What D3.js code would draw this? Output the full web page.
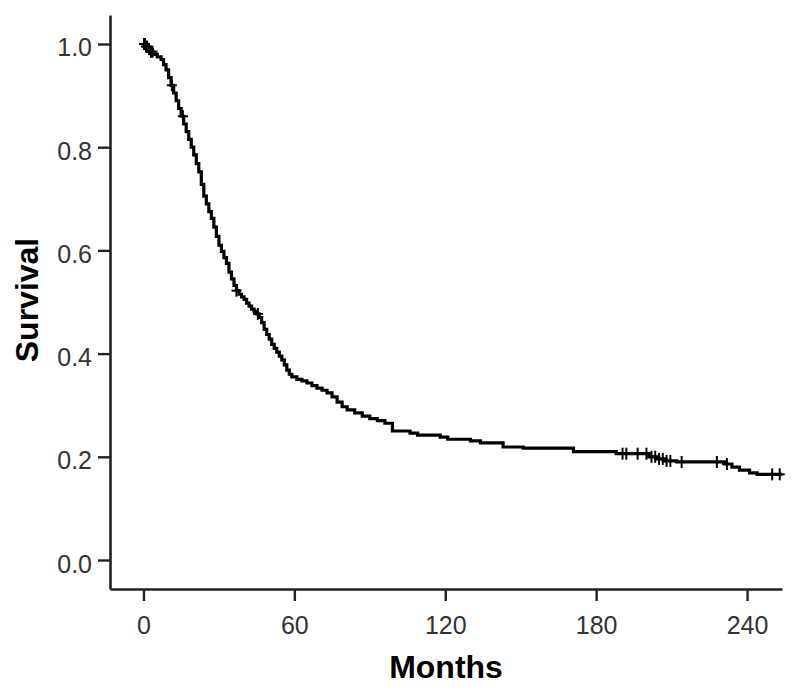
<!DOCTYPE html>
<html>
<head>
<meta charset="utf-8">
<script src="https://cdn.jsdelivr.net/npm/d3@7/dist/d3.min.js"></script>
<style>
  html, body { margin: 0; padding: 0; background: #fff; }
  svg { display: block; }
</style>
</head>
<body>
<svg id="chart" width="800" height="697"></svg>
<script>
// Kaplan-Meier survival estimate (months, survival)
const eventMonths = [0, 1, 2, 3, 4, 5.5, 7, 8, 9, 10, 11, 12, 13, 14, 15, 16, 17, 18, 19, 20,
  21, 22, 23, 24, 25, 26, 27, 28, 29, 30, 31, 32, 33, 34, 35, 36, 37, 38, 39, 40,
  41, 42, 43, 44, 45, 46, 47, 48, 49, 50, 51, 52, 53, 54, 55, 56, 57, 58, 59, 61,
  63, 65, 67, 69, 71, 73, 75, 77, 79, 81, 84, 87, 90, 93, 96, 99, 106, 109, 118, 121,
  130, 134, 143, 151, 171, 188, 201, 204, 207, 212, 231, 234, 237, 241, 244, 254];
const survival = [1.0, 0.995, 0.99, 0.985, 0.98, 0.975, 0.97, 0.96, 0.95, 0.935, 0.92, 0.905, 0.89, 0.875, 0.86, 0.845, 0.83, 0.815, 0.80, 0.785,
  0.768, 0.752, 0.728, 0.705, 0.69, 0.675, 0.662, 0.645, 0.627, 0.61, 0.598, 0.586, 0.575, 0.558, 0.545, 0.532, 0.522, 0.515, 0.51, 0.505,
  0.498, 0.492, 0.486, 0.482, 0.477, 0.47, 0.46, 0.447, 0.437, 0.428, 0.418, 0.41, 0.403, 0.395, 0.388, 0.378, 0.368, 0.36, 0.355, 0.35,
  0.347, 0.343, 0.338, 0.333, 0.329, 0.324, 0.316, 0.306, 0.297, 0.291, 0.285, 0.279, 0.274, 0.27, 0.265, 0.25, 0.246, 0.242, 0.238, 0.234,
  0.231, 0.227, 0.219, 0.217, 0.21, 0.206, 0.2, 0.196, 0.192, 0.19, 0.186, 0.18, 0.174, 0.169, 0.166, 0.166];
// censored observations (months)
const censoredMonths = [0.2, 0.6, 1.0, 1.5, 2.2, 3.0, 3.6, 11.3, 15.7, 37, 45.5,
  190.5, 192, 196.5, 200, 202, 203.5, 205, 206.5, 208, 209.5, 214, 228, 232, 250, 253];
const xTicks = [0, 60, 120, 180, 240];
const yTicks = [0.0, 0.2, 0.4, 0.6, 0.8, 1.0];
const xTitle = "Months";
const yTitle = "Survival";

const svg = d3.select("#chart");
const x = d3.scaleLinear().domain([-13.3, 253.9]).range([110, 782]);
const y = d3.scaleLinear().domain([-0.0562, 1.0562]).range([589, 15]);

const curve = eventMonths.map((t, i) => ({ t, s: survival[i] }));
function survAt(t) {
  let s = survival[0];
  for (let i = 0; i < eventMonths.length; i++) { if (eventMonths[i] <= t) s = survival[i]; }
  return s;
}

// axes
const yAxis = d3.axisLeft(y).tickValues(yTicks).tickFormat(d3.format(".1f"))
  .tickSizeInner(12).tickSizeOuter(0).tickPadding(6);
const xAxis = d3.axisBottom(x).tickValues(xTicks).tickFormat(d3.format("d"))
  .tickSizeInner(12).tickSizeOuter(0).tickPadding(15);

const gy = svg.append("g").attr("transform", "translate(110,0)").call(yAxis);
const gx = svg.append("g").attr("transform", "translate(0,589)").call(xAxis);
[gx, gy].forEach(g => {
  g.select(".domain").attr("stroke", "#222").attr("stroke-width", 2.6);
  g.selectAll(".tick line").attr("stroke", "#222").attr("stroke-width", 2.4);
  g.selectAll(".tick text").attr("fill", "#333")
    .style("font-family", "'Liberation Sans', Arial, sans-serif").style("font-size", "25px");
});
gy.selectAll(".tick text").attr("dy", "0.48em");

// curve
const line = d3.line().x(d => x(d.t)).y(d => y(d.s)).curve(d3.curveStepAfter);
svg.append("path").datum(curve).attr("d", line)
  .attr("fill", "none").attr("stroke", "#000").attr("stroke-width", 3.2)
  .attr("stroke-linejoin", "miter");

// censor marks
const cm = svg.append("g").attr("stroke", "#000").attr("stroke-width", 2);
censoredMonths.forEach(t => {
  const cx = x(t), cy = y(survAt(t));
  cm.append("line").attr("x1", cx - 5).attr("x2", cx + 5).attr("y1", cy).attr("y2", cy);
  cm.append("line").attr("x1", cx).attr("x2", cx).attr("y1", cy - 6).attr("y2", cy + 6);
});

// titles
svg.append("text").attr("x", (x.range()[0] + x.range()[1]) / 2).attr("y", 678)
  .attr("text-anchor", "middle")
  .style("font-family", "'Liberation Sans', Arial, sans-serif").style("font-size", "32px")
  .style("font-weight", "bold").attr("fill", "#000").text(xTitle);
svg.append("text").attr("transform", "translate(38,300) rotate(-90)")
  .attr("text-anchor", "middle")
  .style("font-family", "'Liberation Sans', Arial, sans-serif").style("font-size", "32px")
  .style("font-weight", "bold").attr("fill", "#000").text(yTitle);
</script>
</body>
</html>
